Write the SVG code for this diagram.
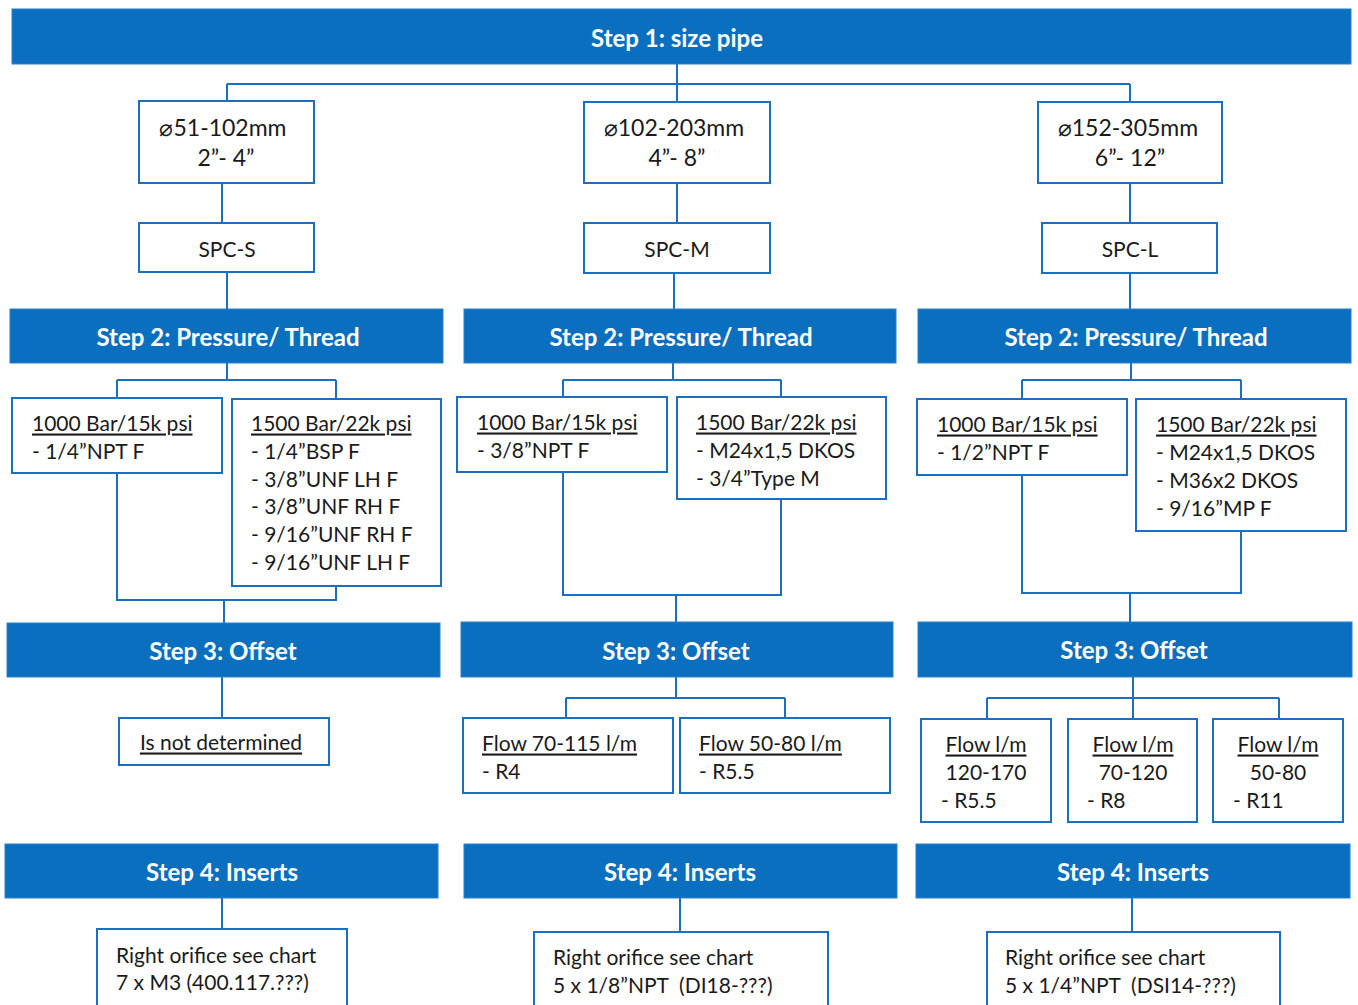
<svg xmlns="http://www.w3.org/2000/svg" width="1358" height="1005" viewBox="0 0 1358 1005">
<style>
.bar{fill:#0b6fc0;stroke:#2a7fcc;stroke-width:1}
.bt{fill:#ffffff;font-family:Lato,"Open Sans",sans-serif;font-weight:bold;font-size:24px;text-anchor:middle;dominant-baseline:central}
.box{fill:#ffffff;stroke:#1a6fc0;stroke-width:2}
.t{fill:#1a1a1a;font-family:Lato,"Open Sans",sans-serif;font-size:21px;dominant-baseline:central;white-space:pre}
.big{font-size:23px}
.c{text-anchor:middle}
.u{text-decoration:underline}
.con{fill:none;stroke:#1a6fc0;stroke-width:2}
</style>
<rect width="1358" height="1005" fill="#ffffff"/>
<g id="connectors" class="con">
<path d="M677,64 V84 M227,84 H1130 M227,84 V101 M677,84 V102 M1130,84 V102"/>
<path d="M222,183 V223 M677,183 V223 M1130,183 V223"/>
<path d="M227,272 V309 M674,273 V309 M1130,273 V309"/>
<path d="M227,363 V380 M117,380 H336 M117,380 V398 M336,380 V399 M117,473 V600 H336 V586 M224,600 V623"/>
<path d="M673,363 V380 M563,380 H781 M563,380 V397 M781,380 V397 M563,472 V595 H781 V499 M676,595 V622"/>
<path d="M1131,363 V380 M1022,380 H1241 M1022,380 V399 M1241,380 V399 M1022,475 V593 H1241 V531 M1130,593 V622"/>
<path d="M222,677 V718"/>
<path d="M676,677 V698 M566,698 H785 M566,698 V718 M785,698 V718"/>
<path d="M1133,677 V698 M987,698 H1279 M987,698 V719 M1133,698 V719 M1279,698 V719"/>
<path d="M222,898 V929 M680,898 V932 M1132,898 V932"/>
</g>
<g id="step1"><rect class="bar" x="12" y="9" width="1339" height="55"/><text class="bt" x="677" y="37">Step 1: size pipe</text></g>
<g id="size-s"><rect class="box" x="139" y="101" width="175" height="82"/><text class="t big c" x="223" y="127">⌀51-102mm</text><text class="t big c" x="226" y="157">2”- 4”</text></g>
<g id="size-m"><rect class="box" x="584" y="102" width="186" height="81"/><text class="t big c" x="674" y="127">⌀102-203mm</text><text class="t big c" x="677" y="157">4”- 8”</text></g>
<g id="size-l"><rect class="box" x="1038" y="102" width="184" height="81"/><text class="t big c" x="1128" y="127">⌀152-305mm</text><text class="t big c" x="1130" y="157">6”- 12”</text></g>
<g id="spc-s"><rect class="box" x="139" y="223" width="175" height="49"/><text class="t c" x="227" y="248">SPC-S</text></g>
<g id="spc-m"><rect class="box" x="584" y="223" width="186" height="50"/><text class="t c" x="677" y="248">SPC-M</text></g>
<g id="spc-l"><rect class="box" x="1042" y="223" width="175" height="50"/><text class="t c" x="1130" y="248">SPC-L</text></g>
<g id="step2-s"><rect class="bar" x="10" y="309" width="433" height="54"/><text class="bt" x="228" y="336">Step 2: Pressure/ Thread</text></g>
<g id="step2-m"><rect class="bar" x="464" y="309" width="432" height="54"/><text class="bt" x="681" y="336">Step 2: Pressure/ Thread</text></g>
<g id="step2-l"><rect class="bar" x="918" y="309" width="433" height="54"/><text class="bt" x="1136" y="336">Step 2: Pressure/ Thread</text></g>
<g id="p1000-s"><rect class="box" x="12" y="398" width="210" height="75"/><text class="t u" x="32" y="422">1000 Bar/15k psi</text><text class="t" x="32" y="450">- 1/4”NPT F</text></g>
<g id="p1500-s"><rect class="box" x="232" y="399" width="209" height="187"/><text class="t u" x="251" y="422">1500 Bar/22k psi</text><text class="t" x="251" y="450">- 1/4”BSP F</text><text class="t" x="251" y="478">- 3/8”UNF LH F</text><text class="t" x="251" y="505">- 3/8”UNF RH F</text><text class="t" x="251" y="533">- 9/16”UNF RH F</text><text class="t" x="251" y="561">- 9/16”UNF LH F</text></g>
<g id="p1000-m"><rect class="box" x="457" y="397" width="210" height="75"/><text class="t u" x="477" y="421">1000 Bar/15k psi</text><text class="t" x="477" y="449">- 3/8”NPT F</text></g>
<g id="p1500-m"><rect class="box" x="677" y="397" width="209" height="102"/><text class="t u" x="696" y="421">1500 Bar/22k psi</text><text class="t" x="696" y="449">- M24x1,5 DKOS</text><text class="t" x="696" y="477">- 3/4”Type M</text></g>
<g id="p1000-l"><rect class="box" x="917" y="399" width="210" height="76"/><text class="t u" x="937" y="423">1000 Bar/15k psi</text><text class="t" x="937" y="451">- 1/2”NPT F</text></g>
<g id="p1500-l"><rect class="box" x="1136" y="399" width="210" height="132"/><text class="t u" x="1156" y="423">1500 Bar/22k psi</text><text class="t" x="1156" y="451">- M24x1,5 DKOS</text><text class="t" x="1156" y="479">- M36x2 DKOS</text><text class="t" x="1156" y="507">- 9/16”MP F</text></g>
<g id="step3-s"><rect class="bar" x="7" y="623" width="433" height="54"/><text class="bt" x="223" y="650">Step 3: Offset</text></g>
<g id="step3-m"><rect class="bar" x="461" y="622" width="432" height="55"/><text class="bt" x="676" y="650">Step 3: Offset</text></g>
<g id="step3-l"><rect class="bar" x="918" y="622" width="434" height="55"/><text class="bt" x="1134" y="649">Step 3: Offset</text></g>
<g id="offset-s"><rect class="box" x="119" y="718" width="210" height="47"/><text class="t c u" x="221" y="741">Is not determined</text></g>
<g id="flow-m1"><rect class="box" x="463" y="718" width="210" height="75"/><text class="t u" x="482" y="742">Flow 70-115 l/m</text><text class="t" x="482" y="770">- R4</text></g>
<g id="flow-m2"><rect class="box" x="680" y="718" width="210" height="75"/><text class="t u" x="699" y="742">Flow 50-80 l/m</text><text class="t" x="699" y="770">- R5.5</text></g>
<g id="flow-l1"><rect class="box" x="921" y="719" width="130" height="103"/><text class="t c u" x="986" y="743">Flow l/m</text><text class="t c" x="986" y="771">120-170</text><text class="t" x="941" y="799">- R5.5</text></g>
<g id="flow-l2"><rect class="box" x="1068" y="719" width="129" height="103"/><text class="t c u" x="1133" y="743">Flow l/m</text><text class="t c" x="1133" y="771">70-120</text><text class="t" x="1087" y="799">- R8</text></g>
<g id="flow-l3"><rect class="box" x="1213" y="719" width="130" height="103"/><text class="t c u" x="1278" y="743">Flow l/m</text><text class="t c" x="1278" y="771">50-80</text><text class="t" x="1233" y="799">- R11</text></g>
<g id="step4-s"><rect class="bar" x="5" y="844" width="433" height="54"/><text class="bt" x="222" y="871">Step 4: Inserts</text></g>
<g id="step4-m"><rect class="bar" x="464" y="844" width="433" height="54"/><text class="bt" x="680" y="871">Step 4: Inserts</text></g>
<g id="step4-l"><rect class="bar" x="916" y="844" width="434" height="54"/><text class="bt" x="1133" y="871">Step 4: Inserts</text></g>
<g id="insert-s"><rect class="box" x="97" y="929" width="250" height="90"/><text class="t" x="116" y="954">Right orifice see chart</text><text class="t" x="116" y="981">7 x M3 (400.117.???)</text></g>
<g id="insert-m"><rect class="box" x="534" y="932" width="294" height="90"/><text class="t" x="553" y="956">Right orifice see chart</text><text class="t" x="553" y="984">5 x 1/8”NPT  (DI18-???)</text></g>
<g id="insert-l"><rect class="box" x="987" y="932" width="293" height="90"/><text class="t" x="1005" y="956">Right orifice see chart</text><text class="t" x="1005" y="984">5 x 1/4”NPT  (DSI14-???)</text></g>
</svg>
